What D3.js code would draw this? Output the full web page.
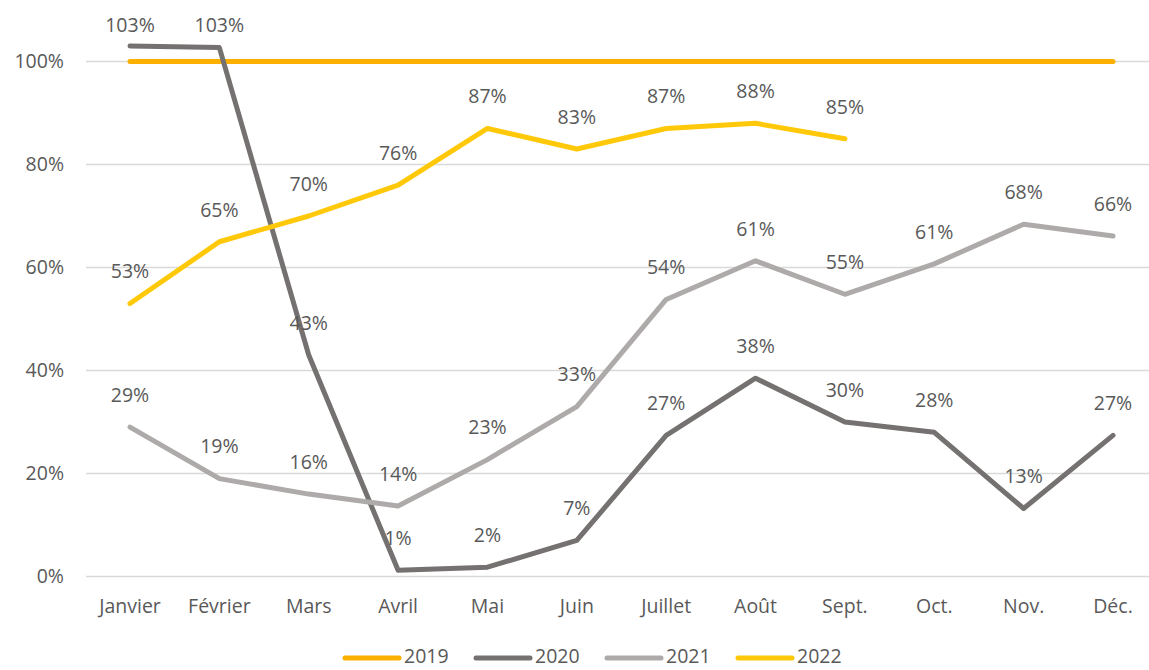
<!DOCTYPE html>
<html>
<head>
<meta charset="utf-8">
<script src="https://cdn.jsdelivr.net/npm/d3@7"></script>
<style>
  body { margin: 0; background: #fff; }
  svg text { font-family: "Open Sans", Lato, sans-serif; fill: #595959; }
</style>
</head>
<body>
<div id="chart"></div>
<script>
const months = ['Janvier', 'Février', 'Mars', 'Avril', 'Mai', 'Juin', 'Juillet', 'Août', 'Sept.', 'Oct.', 'Nov.', 'Déc.'];
const yTicks = [0, 20, 40, 60, 80, 100];
const v2019 = [100, 100, 100, 100, 100, 100, 100, 100, 100, 100, 100, 100];
const v2020 = [103, 102.7, 43, 1.2, 1.8, 7, 27.4, 38.5, 30, 28, 13.2, 27.4];
const v2021 = [29, 19, 16, 13.7, 22.7, 33, 53.8, 61.3, 54.8, 60.7, 68.4, 66.1];
const v2022 = [53, 65, 70, 76, 87, 83, 87, 88, 85];
const labels2020 = ['103%', '103%', '43%', '1%', '2%', '7%', '27%', '38%', '30%', '28%', '13%', '27%'];
const labels2021 = ['29%', '19%', '16%', '14%', '23%', '33%', '54%', '61%', '55%', '61%', '68%', '66%'];
const labels2022 = ['53%', '65%', '70%', '76%', '87%', '83%', '87%', '88%', '85%'];

const series = [
  { name: '2019', values: v2019, color: '#FBB000', labels: null },
  { name: '2020', values: v2020, color: '#767171', labels: labels2020 },
  { name: '2021', values: v2021, color: '#AEAAAA', labels: labels2021 },
  { name: '2022', values: v2022, color: '#FFC90A', labels: labels2022 },
];

const width = 1149, height = 670;
const margin = { left: 86 };
const fontSize = '19.5px';

const svg = d3.select('#chart').append('svg')
  .attr('width', width).attr('height', height);

const x = d3.scalePoint().domain(months).range([130, 1113]);
const y = d3.scaleLinear().domain([0, 100]).range([576.5, 61.5]);

// grid
svg.append('g').selectAll('line').data(yTicks).join('line')
  .attr('x1', margin.left).attr('x2', 1158)
  .attr('y1', d => y(d)).attr('y2', d => y(d))
  .attr('stroke', '#D9D9D9').attr('stroke-width', 1.5);

// y axis labels
svg.append('g').selectAll('text').data(yTicks).join('text')
  .attr('x', 64).attr('y', d => y(d))
  .attr('dy', '0.35em').attr('text-anchor', 'end')
  .style('font-size', fontSize)
  .text(d => d + '%');

// x axis labels
svg.append('g').selectAll('text').data(months).join('text')
  .attr('x', d => x(d)).attr('y', 606)
  .attr('dy', '0.35em').attr('text-anchor', 'middle')
  .style('font-size', fontSize)
  .text(d => d);

const line = d3.line()
  .x((d, i) => x(months[i]))
  .y(d => y(d));

series.forEach(s => {
  svg.append('path')
    .datum(s.values)
    .attr('fill', 'none')
    .attr('stroke', s.color)
    .attr('stroke-width', 5)
    .attr('stroke-linecap', 'round')
    .attr('stroke-linejoin', 'round')
    .attr('d', line);
});

// data labels
series.filter(s => s.labels).forEach(s => {
  svg.append('g').selectAll('text').data(s.values).join('text')
    .attr('x', (d, i) => x(months[i]))
    .attr('y', d => Math.max(y(d) - 32, 25))
    .attr('dy', '0.35em').attr('text-anchor', 'middle')
    .style('font-size', fontSize)
    .text((d, i) => s.labels[i]);
});

// legend
const legend = svg.append('g').attr('transform', 'translate(343, 656)');
const legendItem = legend.selectAll('g').data(series).join('g')
  .attr('transform', (d, i) => `translate(${i * 131}, 0)`);
legendItem.append('line')
  .attr('x1', 2).attr('x2', 56).attr('y1', 2).attr('y2', 2)
  .attr('stroke', d => d.color).attr('stroke-width', 5)
  .attr('stroke-linecap', 'round');
legendItem.append('text')
  .attr('x', 61).attr('y', 0).attr('dy', '0.35em')
  .style('font-size', fontSize)
  .text(d => d.name);
</script>
</body>
</html>
